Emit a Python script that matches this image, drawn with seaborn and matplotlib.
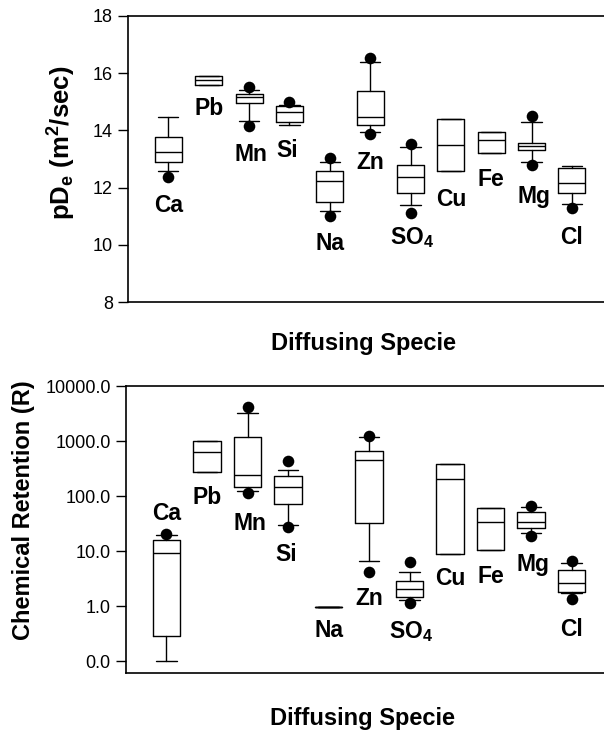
import numpy as np
import matplotlib
matplotlib.use("Agg")
import matplotlib.pyplot as plt
import seaborn as sns
import pandas as pd

sns.set_theme(style="ticks")
plt.rcParams['font.family'] = ['Liberation Sans', 'DejaVu Sans']
plt.rcParams['text.color'] = 'black'
plt.rcParams['axes.labelcolor'] = 'black'
plt.rcParams['mathtext.fontset'] = 'custom'
plt.rcParams['mathtext.rm'] = 'Liberation Sans'
plt.rcParams['mathtext.bf'] = 'Liberation Sans:bold'
plt.rcParams['mathtext.it'] = 'Liberation Sans:italic'

species = ["Ca", "Pb", "Mn", "Si", "Na", "Zn", "SO$_\\mathbf{4}$", "Cu", "Fe", "Mg", "Cl"]

# Top panel: pDe (m2/sec)
pde_whislo = [12.58, 15.59, 14.33, 14.19, 11.18, 13.95, 11.39, 12.58, 13.21, 12.90, 11.43]
pde_q1     = [12.90, 15.59, 14.96, 14.29, 11.50, 14.19, 11.81, 12.58, 13.21, 13.31, 11.81]
pde_med    = [13.25, 15.76, 15.17, 14.65, 12.23, 14.47, 12.37, 13.49, 13.66, 13.45, 12.17]
pde_q3     = [13.77, 15.90, 15.27, 14.85, 12.58, 15.38, 12.79, 14.40, 13.94, 13.55, 12.69]
pde_whishi = [14.47, 15.90, 15.41, 14.90, 12.90, 16.40, 13.42, 14.40, 13.94, 14.30, 12.76]
pde_dot_lo = [12.37, np.nan, 14.15, np.nan, 11.00, 13.87, 11.10, np.nan, np.nan, 12.79, 11.28]
pde_dot_hi = [np.nan, np.nan, 15.52, 15.00, 13.03, 16.53, 13.52, np.nan, np.nan, 14.50, np.nan]
pde_label_y = [11.39, 14.78, 13.14, 13.31, 10.06, 12.86, 10.27, 11.57, 12.27, 11.70, 10.27]
pde_ticks = [8, 10, 12, 14, 16, 18]

# Bottom panel: Chemical retention (R)
r_whislo = [0.10, 272, 125, 30, 0.95, 6.6, 1.30, 8.9, 10.5, 21, 1.70]
r_q1     = [0.28, 272, 145, 71, 0.95, 32, 1.45, 8.9, 10.5, 26, 1.78]
r_med    = [9.2, 631, 240, 145, 0.95, 450, 2.03, 205, 34, 34, 2.60]
r_q3     = [15.9, 1000, 1180, 230, 0.95, 660, 2.80, 380, 60, 51, 4.50]
r_whishi = [19.5, 1000, 3240, 295, 0.95, 1200, 4.20, 380, 60, 62, 6.00]
r_dot_lo = [np.nan, np.nan, 112, 27.5, np.nan, 4.2, 1.12, np.nan, np.nan, 18.6, 1.35]
r_dot_hi = [20.4, np.nan, 4150, 433, np.nan, 1230, 6.3, np.nan, np.nan, 66, 6.6]
r_label_y = [49, 95, 32, 8.5, 0.36, 1.4, 0.34, 3.2, 3.5, 5.8, 0.38]
r_ticks = [0.1, 1, 10, 100, 1000, 10000]
r_ticklabels = ["0.0", "1.0", "10.0", "100.0", "1000.0", "10000.0"]

label_dx = [0, 0, 0.05, -0.05, 0, 0, 0.05, 0, 0, 0.05, 0]

fig = plt.figure(figsize=(6.04, 7.30), dpi=100)
ax1 = fig.add_axes([0.212, 0.5863, 0.795, 0.3918])
ax2 = fig.add_axes([0.2086, 0.078, 0.798, 0.3932])

pos = np.arange(len(species))


def draw(ax, wl, q1, med, q3, wh, dlo, dhi, lab_y):
    stats = []
    for i in range(len(species)):
        stats.append(dict(whislo=wl[i], q1=q1[i], med=med[i], q3=q3[i],
                          whishi=wh[i], fliers=[], label=species[i]))
    lp = dict(color='black', linewidth=1.0)
    ax.bxp(stats, positions=pos, widths=0.67, capwidths=0.5, showfliers=False,
           boxprops=lp, medianprops=lp, whiskerprops=lp, capprops=lp)
    dots = pd.DataFrame({"x": np.concatenate([pos, pos]),
                         "y": np.concatenate([dlo, dhi])}).dropna()
    sns.scatterplot(data=dots, x="x", y="y", ax=ax, color='black', s=70,
                    edgecolor='black', linewidth=0, zorder=5, legend=False)
    for i, name in enumerate(species):
        ax.text(pos[i] + label_dx[i], lab_y[i], name, ha='center', va='center',
                fontsize=16.5, fontweight='bold', color='black')
    ax.set_xlim(-1.0, 10.9)
    ax.set_xticks([])
    ax.spines['right'].set_visible(False)
    for s in ['left', 'top', 'bottom']:
        ax.spines[s].set_linewidth(1.2)
        ax.spines[s].set_color('black')
    ax.tick_params(axis='y', direction='out', length=7, width=1.0, labelsize=13,
                   colors='black', pad=4)
    ax.set_xlabel("Diffusing Specie", fontsize=17, fontweight='bold', color='black')


draw(ax1, pde_whislo, pde_q1, pde_med, pde_q3, pde_whishi, pde_dot_lo, pde_dot_hi, pde_label_y)
ax1.set_ylim(8, 18)
ax1.set_yticks(pde_ticks)
ax1.set_ylabel(r"$\mathbf{pD_e}$ $\mathbf{(m^2/sec)}$", fontsize=18.5, color='black')
ax1.yaxis.set_label_coords(-0.105, 0.555)
ax1.xaxis.set_label_coords(0.49, -0.105)

draw(ax2, r_whislo, r_q1, r_med, r_q3, r_whishi, r_dot_lo, r_dot_hi, r_label_y)
ax2.set_yscale('log')
ax2.set_ylim(0.0605, 10000)
ax2.set_yticks(r_ticks)
ax2.set_yticklabels(r_ticklabels)
ax2.yaxis.set_minor_locator(matplotlib.ticker.NullLocator())
ax2.set_ylabel("Chemical Retention (R)", fontsize=17, fontweight='bold', color='black')
ax2.yaxis.set_label_coords(-0.188, 0.568)
ax2.xaxis.set_label_coords(0.49, -0.118)

fig.savefig("out.png", dpi=100)
